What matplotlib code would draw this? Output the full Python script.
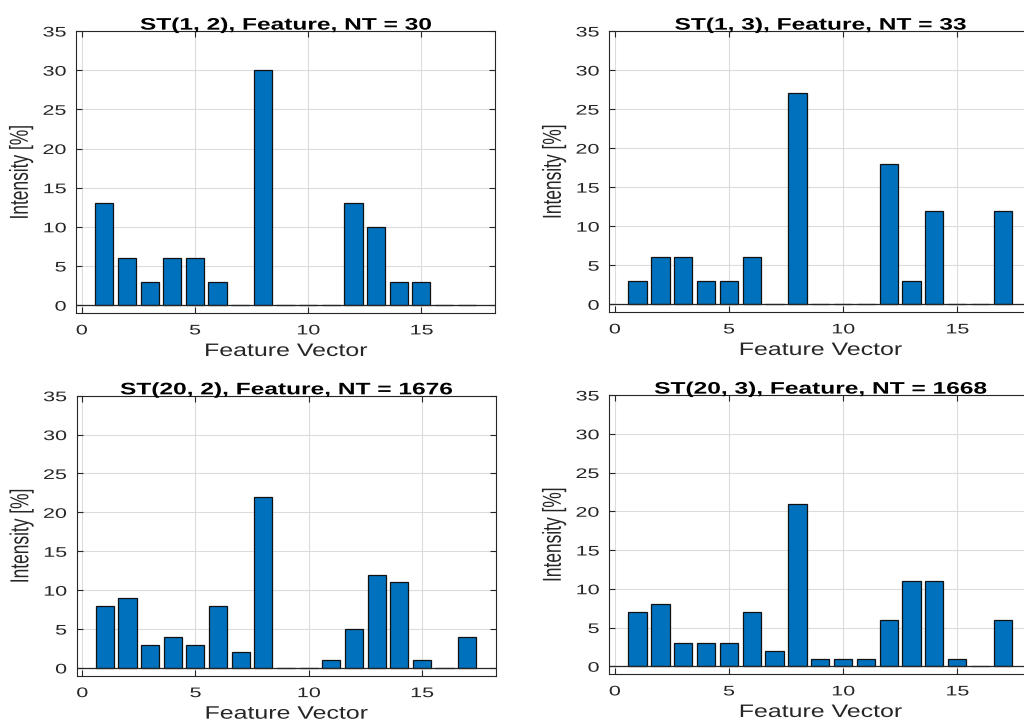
import matplotlib
matplotlib.use("Agg")
import matplotlib.pyplot as plt
from matplotlib.patheffects import AbstractPathEffect
from matplotlib.transforms import Affine2D
import numpy as np

# Feature-vector intensity histograms (percent) for four ST settings
features = list(range(1, 18))
titles = [
    "ST(1, 2), Feature, NT = 30",
    "ST(1, 3), Feature, NT = 33",
    "ST(20, 2), Feature, NT = 1676",
    "ST(20, 3), Feature, NT = 1668",
]
st_1_2 = [13, 6, 3, 6, 6, 3, 0, 30, 0, 0, 0, 13, 10, 3, 3, 0, 0]
st_1_3 = [3, 6, 6, 3, 3, 6, 0, 27, 0, 0, 0, 18, 3, 12, 0, 0, 12]
st_20_2 = [8, 9, 3, 4, 3, 8, 2, 22, 0, 0, 1, 5, 12, 11, 1, 0, 4]
st_20_3 = [7, 8, 3, 3, 3, 7, 2, 21, 1, 1, 1, 6, 11, 11, 1, 0, 6]
series = [st_1_2, st_1_3, st_20_2, st_20_3]
x_ticks = [0, 5, 10, 15]
y_ticks = [0, 5, 10, 15, 20, 25, 30, 35]
x_label = "Feature Vector"
y_label = "Intensity [%]"

BAR_COLOR = "#0072BD"
INK = "#262626"


class HStretch(AbstractPathEffect):
    """Widen glyphs horizontally around a chosen anchor of the text."""

    def __init__(self, sx, anchor=0.5):
        super().__init__()
        self.sx = sx
        self.anchor = anchor

    def draw_path(self, renderer, gc, tpath, affine, rgbFace=None):
        verts = affine.transform(tpath.vertices)
        if len(verts):
            x0, x1 = verts[:, 0].min(), verts[:, 0].max()
            xa = x0 + self.anchor * (x1 - x0)
        else:
            xa = 0.0
        aff = affine + Affine2D().translate(-xa, 0).scale(self.sx, 1.0).translate(xa, 0)
        renderer.draw_path(gc, tpath, aff, rgbFace)


plt.rcParams["font.family"] = ["Liberation Sans", "DejaVu Sans"]

W, H = 1024, 727
fig = plt.figure(figsize=(W / 100, H / 100), dpi=100)

# axes boxes in pixels: (left, top, width, height)
boxes = [
    (76.0, 31.0, 419.0, 282.0),
    (609.0, 31.0, 422.4, 281.0),
    (76.5, 395.7, 419.0, 280.0),
    (609.0, 395.0, 422.4, 279.0),
]

for (l, t, w, h), vals, title in zip(boxes, series, titles):
    ax = fig.add_axes([l / W, 1 - (t + h) / H, w / W, h / H])
    ax.set_axisbelow(True)
    ax.grid(True, color="#dcdcdc", lw=0.8)
    ax.bar(features, vals, width=0.8, color=BAR_COLOR,
           edgecolor="#111111", linewidth=0.9, zorder=2)
    ax.axhline(0, color=INK, lw=0.9, zorder=3)
    ax.set_xlim(-0.25, 18.25)
    ax.set_ylim(-1, 35)
    ax.set_xticks(x_ticks)
    ax.set_yticks(y_ticks)
    for sp in ax.spines.values():
        sp.set_color(INK)
        sp.set_linewidth(0.8)
    ax.tick_params(direction="in", length=4, width=0.8, top=True, right=True,
                   colors=INK, labelcolor=INK, labelsize=10)
    ax.tick_params(axis="x", pad=7.5)
    ax.tick_params(axis="y", pad=7)
    for lbl in ax.get_xticklabels():
        lbl.set_path_effects([HStretch(1.55, 0.5)])
    for lbl in ax.get_yticklabels():
        lbl.set_path_effects([HStretch(1.55, 1.0)])

    ttl = ax.set_title(title, fontsize=12, fontweight="bold", color="#000000", pad=1)
    ttl.set_path_effects([HStretch(1.47, 0.5)])
    xl = ax.set_xlabel(x_label, fontsize=13, color=INK, labelpad=4)
    xl.set_path_effects([HStretch(1.38, 0.5)])
    yl = ax.set_ylabel(y_label, fontsize=12.5, color=INK, labelpad=13)
    yl.set_path_effects([HStretch(1.5, 1.0)])

fig.savefig("out.png", dpi=100)
